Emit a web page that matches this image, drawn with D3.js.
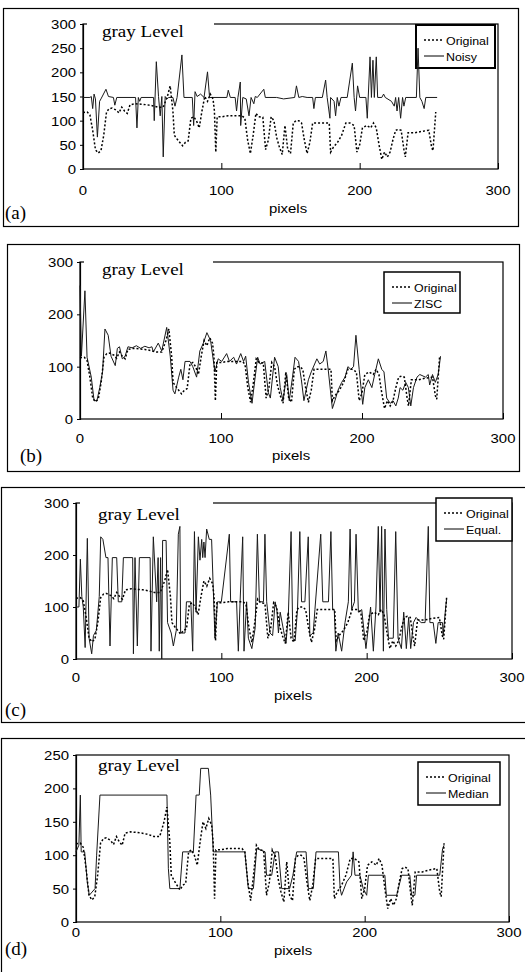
<!DOCTYPE html>
<html><head><meta charset="utf-8">
<script src="https://cdn.jsdelivr.net/npm/d3@7"></script>
<style>body{margin:0;background:#fff}svg{display:block}text{font-weight:400}</style>
</head><body>
<script>
// ---------- DATA ----------
const panelLabels = ["(a)", "(b)", "(c)", "(d)"];
const seriesNames = ["Original", "Noisy", "ZISC", "Equal.", "Median"];
const xTicks = [0, 100, 200, 300];
const yTicksA = [0, 50, 100, 150, 200, 250, 300];
const yTicks300 = [0, 100, 200, 300];
const yTicksD = [0, 50, 100, 150, 200, 250];

// [pixel, gray level]
const original = [[0,117],[3,118],[5,112],[7,80],[9,40],[11,33],[13,38],[15,70],[17,118],[19,125],[21,126],[24,122],[26,116],[28,128],[30,120],[32,115],[34,133],[38,135],[42,134],[46,133],[50,131],[54,128],[58,128],[61,150],[63,172],[65,120],[66,70],[68,62],[70,55],[72,48],[74,55],[76,58],[78,105],[80,108],[82,100],[84,85],[86,120],[88,150],[90,140],[92,155],[94,145],[95,120],[96,35],[97,108],[100,108],[105,110],[110,110],[115,110],[117,105],[119,60],[121,32],[123,70],[125,115],[127,108],[130,107],[132,40],[134,60],[136,108],[138,100],[140,65],[142,45],[144,30],[146,90],[148,40],[150,32],[152,95],[154,100],[156,100],[158,95],[160,60],[162,32],[164,55],[166,95],[170,95],[175,95],[178,95],[179,35],[181,45],[184,55],[187,70],[190,95],[193,95],[196,90],[198,35],[200,50],[202,85],[205,90],[208,85],[210,95],[212,85],[214,50],[216,20],[218,35],[220,25],[222,35],[224,60],[226,80],[228,82],[230,80],[232,40],[233,25],[235,75],[240,75],[245,78],[250,80],[252,45],[253,38],[255,118]];

const noisy = [[0,148],[5,148],[6,150],[7,125],[8,155],[9,145],[10.4,66],[12,140],[13,145],[16.6,165],[18.4,150],[22,148],[23,132],[24.4,148],[38,148],[39,85],[40,148],[41,140],[42,148],[51,148],[51.5,100],[53,222],[54.6,150],[55.8,110],[57,150],[58,25],[59.4,150],[60.5,145],[62,148],[65,148],[66.5,130],[68,148],[71.5,236],[73,148],[79,148],[80,90],[81,160],[82.5,150],[85,155],[87.5,148],[90,201],[91.5,148],[104,148],[105,163],[106.5,148],[110,148],[111,120],[112,148],[113.7,180],[114,90],[115.5,148],[118,145],[120,110],[121.5,148],[123.5,135],[124.5,150],[126,148],[130.7,165],[131.8,148],[140,148],[145,145],[153,148],[154.3,172],[156,148],[158.5,150],[162,148],[166,148],[166.9,125],[168,148],[173,148],[175.4,184],[176.5,148],[178.5,105],[179,148],[181.5,140],[182.6,110],[183.8,148],[185,130],[186.5,148],[191,148],[194.7,219],[196,148],[197,120],[198.5,172],[200,148],[204.5,148],[205.5,105],[207.5,232],[208.5,148],[209.6,225],[210.6,148],[212,232],[213,148],[216,148],[217.3,155],[218.5,148],[223,140],[225,130],[226,148],[227,120],[228.2,148],[229.6,105],[231,148],[232,130],[233.3,148],[241,148],[242.2,250],[243.5,148],[245,140],[246.6,125],[247.8,148],[256,148]];

const zisc = [[0,255],[1,120],[3.5,245],[5,118],[8,80],[10,35],[12,35],[14,60],[16,90],[17.7,172],[20,160],[22,120],[25,102],[26.5,135],[28,138],[30,115],[32,120],[34,138],[37,136],[40,140],[43,135],[46,139],[49,136],[51,138],[52,128],[55.5,145],[58,130],[61.5,175],[64,120],[66,55],[67.3,48],[70,80],[71.5,95],[73,75],[74.5,110],[78,110],[80,100],[82.7,80],[85,130],[87.5,145],[90,165],[92.6,150],[95.7,90],[98,115],[100.5,110],[104,125],[106,110],[109,118],[111,105],[114,125],[116,110],[117.5,120],[119.5,70],[122,30],[124,75],[126,118],[127.7,105],[131,110],[133.6,50],[135,40],[138,118],[140.6,100],[142,60],[144,35],[146.6,85],[148.4,35],[150.7,80],[152.5,118],[155,110],[157,75],[158.8,35],[162,75],[164,90],[168,115],[170,105],[172.5,110],[174.4,130],[176,95],[179,20],[180.8,35],[183,55],[185.6,70],[188,80],[190,100],[192,95],[194,100],[195.7,160],[198,95],[200.5,28],[202,60],[204.5,75],[207,60],[209,85],[211.6,115],[214,95],[215.6,90],[217.5,40],[220,30],[222,35],[224,25],[225.7,40],[227,60],[229,55],[231,70],[232.9,60],[234.6,25],[236.5,60],[239,80],[241,85],[245,80],[247,85],[248,65],[250,85],[252,70],[254,85],[255.7,120]];

const equal = [[0,100],[2,100],[3,192],[4,120],[5,100],[6.3,22],[7.8,232],[9,40],[10.8,10],[12,45],[14,55],[16,120],[17,235],[18.5,230],[20.6,195],[22,195],[23.4,25],[25,195],[28,195],[29.1,110],[31.5,110],[32.6,195],[39,195],[39.5,10],[40.6,195],[42.2,25],[43.6,195],[51,195],[51.6,15],[53.2,235],[55.5,110],[56.5,195],[57.3,15],[58.2,195],[59,0],[59.6,228],[62,228],[63,70],[65.5,50],[67,25],[69,55],[70.4,240],[71.5,255],[72,50],[75,50],[76,110],[79,110],[80.3,15],[81.5,245],[82.6,90],[84.2,235],[85.3,190],[86.5,230],[87.2,195],[88,225],[88.8,195],[89.9,250],[91.7,230],[93.3,230],[95.6,40],[97.3,110],[100,110],[105.5,240],[106.4,110],[110.5,110],[111.7,15],[112.9,110],[114.7,235],[115.6,15],[117.4,110],[118.6,40],[121,20],[123.3,60],[124.8,240],[126.2,110],[129,110],[130,240],[131.2,110],[133.5,50],[135.3,45],[137,110],[138.2,95],[139.3,50],[140.5,90],[142.8,55],[144.5,30],[146.1,85],[148,245],[149.2,40],[150.8,35],[152.4,95],[154,245],[155.2,110],[157.5,110],[159.8,235],[160.9,45],[163.2,50],[164.4,95],[168.4,240],[169.8,110],[173.7,110],[175.4,245],[176.6,95],[177.7,95],[178.8,15],[180.4,50],[182.8,15],[185.1,70],[187.4,110],[188.6,250],[189.7,95],[191.6,110],[192.7,240],[194.3,90],[196.6,95],[199.5,20],[201.1,60],[202.7,100],[204.6,15],[206.4,100],[208,255],[209.2,90],[210.3,255],[211.5,15],[212.6,250],[213.8,95],[215,40],[218.3,40],[220,245],[221.6,40],[223.9,20],[225.5,90],[227.3,20],[228.9,80],[230.3,20],[232.2,70],[234,80],[235.6,75],[237.5,70],[240.2,70],[242.4,255],[243.5,70],[245.8,70],[247.6,30],[249.2,70],[252.2,70],[252.6,45],[254.4,100],[255,115]];

const median = [[0,105],[2,115],[3,190],[3.6,105],[6,105],[7.8,60],[9.2,40],[13.2,50],[14.3,100],[16.6,190],[63,190],[64,80],[65,50],[72,50],[73.9,105],[81.3,105],[83.2,190],[85.4,190],[86.4,230],[91.7,230],[93.3,190],[95.1,105],[117,105],[119.4,50],[122.9,50],[125.2,110],[131,105],[132,70],[135.6,70],[138,105],[140.3,105],[142.5,50],[148,50],[150.3,70],[152.9,105],[159.4,105],[161,50],[164.4,50],[166.3,105],[181.8,105],[183,50],[184,40],[187.5,60],[190.9,70],[192,105],[193.3,70],[196.7,70],[199,50],[201.4,40],[202.6,70],[214,70],[215,40],[222.2,40],[225.6,70],[231.3,70],[232.5,40],[234.8,40],[236,70],[252,70],[254,110],[255,115]];

// ---------- LAYOUT ----------
const W = 525, H = 972;
const svg = d3.select("body").append("svg").attr("width", W).attr("height", H);

const panels = [
  {label: panelLabels[0], other: noisy, name: seriesNames[1], yMax: 300, yTicks: yTicksA,
   box: [3, 8, 518, 226], plot: [83, 498, 24, 169], legend: [416, 25, 79, 43, 2],
   gl: [102, 37], glCut: 214, xLab: 195, pix: [288, 213], pl: [5, 219]},
  {label: panelLabels[1], other: zisc, name: seriesNames[2], yMax: 300, yTicks: yTicks300,
   box: [7, 244, 519, 471], plot: [80, 503, 262, 419], legend: [384, 272, 76, 41, 1.5],
   gl: [102, 275], glCut: 213, xLab: 443, pix: [291, 460], pl: [20, 462]},
  {label: panelLabels[2], other: equal, name: seriesNames[3], yMax: 300, yTicks: yTicks300,
   box: [1, 487, 528, 722], plot: [76, 512, 503, 659], legend: [436, 498, 76, 43, 1.5],
   gl: [98, 520], glCut: 213, xLab: 682, pix: [293, 700], pl: [5, 716]},
  {label: panelLabels[3], other: median, name: seriesNames[4], yMax: 250, yTicks: yTicksD,
   box: [1, 738, 528, 976], plot: [76, 509, 755, 922], legend: [418, 762, 82, 43, 1.5],
   gl: [98, 771], glCut: null, xLab: 937, pix: [293, 955], pl: [5, 955]}
];

const sx = 1.15; // horizontal stretch of the original typography
const SANS = "'Liberation Sans', Arial, sans-serif";
const SERIF = "'Liberation Serif', 'Times New Roman', serif";

function stretchedText(g, x, y, txt, opts) {
  return g.append("text")
    .attr("transform", `translate(${x},${y}) scale(${opts.sx || 1},1)`)
    .style("font-family", opts.family || SANS)
    .style("font-size", opts.size + "px")
    .style("font-weight", "400")
    .attr("text-anchor", opts.anchor || "start")
    .attr("fill", "#000")
    .text(txt);
}

panels.forEach(p => {
  const g = svg.append("g");
  const [bx0, by0, bx1, by1] = p.box;
  g.append("rect").attr("x", bx0 + 0.5).attr("y", by0 + 0.5)
    .attr("width", bx1 - bx0).attr("height", by1 - by0)
    .attr("fill", "none").attr("stroke", "#000").attr("stroke-width", 1.2);

  const [l, r, t, b] = p.plot;
  const x = d3.scaleLinear().domain([0, 300]).range([l, r]);
  const y = d3.scaleLinear().domain([0, p.yMax]).range([b, t]);

  // frame
  g.append("rect").attr("x", l).attr("y", t).attr("width", r - l).attr("height", b - t)
    .attr("fill", "none").attr("stroke", "#000").attr("stroke-width", 1.2);

  // y axis
  const ya = g.append("g").attr("transform", `translate(${l},0)`)
    .call(d3.axisLeft(y).tickValues(p.yTicks).tickSize(3).tickPadding(4).tickFormat(d3.format("d")));
  ya.select(".domain").attr("stroke-width", 1.2);
  ya.selectAll("text").remove();
  p.yTicks.forEach(v => {
    stretchedText(g, l - 7, y(v) + 5, String(v), {size: 13, sx: sx, anchor: "end"});
  });

  // x axis (inward ticks)
  const xa = g.append("g").attr("transform", `translate(0,${b})`)
    .call(d3.axisBottom(x).tickValues(xTicks).tickSizeInner(-6).tickSizeOuter(0));
  xa.select(".domain").remove();
  xa.selectAll("text").remove();
  xTicks.forEach(v => {
    stretchedText(g, x(v), p.xLab, String(v), {size: 13, sx: sx, anchor: "middle"});
  });

  // white cut in top border behind "gray Level"
  if (p.glCut) {
    g.append("rect").attr("x", l + 4).attr("y", t - 2).attr("width", p.glCut - l - 4).attr("height", 4)
      .attr("fill", "#fff");
  }
  stretchedText(g, p.gl[0], p.gl[1], "gray Level", {size: 17, sx: 1.12, family: SERIF});

  // legend box
  const [lx, ly, lw, lh, lsw] = p.legend;
  g.append("rect").attr("x", lx).attr("y", ly).attr("width", lw).attr("height", lh)
    .attr("fill", "#fff").attr("stroke", "#000").attr("stroke-width", lsw);

  // data lines
  const line = d3.line().x(d => x(d[0])).y(d => y(d[1]));
  g.append("path").datum(p.other).attr("d", line)
    .attr("fill", "none").attr("stroke", "#1a1a1a").attr("stroke-width", 1).attr("stroke-linejoin", "round");
  g.append("path").datum(original).attr("d", line)
    .attr("fill", "none").attr("stroke", "#000").attr("stroke-width", 1.5).attr("stroke-dasharray", "2,2");

  // legend entries
  const items = [{name: seriesNames[0], dash: "2,2", w: 1.5}, {name: p.name, dash: null, w: 1}];
  items.forEach((it, i) => {
    const yy = ly + 15 + i * 16;
    const sl = g.append("line").attr("x1", lx + 8).attr("x2", lx + 28).attr("y1", yy).attr("y2", yy)
      .attr("stroke", "#000").attr("stroke-width", it.w);
    if (it.dash) sl.attr("stroke-dasharray", it.dash);
    stretchedText(g, lx + 30, yy + 4.5, it.name, {size: 11.5, sx: 1.08});
  });

  // axis title and panel label
  stretchedText(g, p.pix[0], p.pix[1], "pixels", {size: 13, sx: sx, anchor: "middle"});
  stretchedText(g, p.pl[0], p.pl[1], p.label, {size: 19, family: SERIF});
});
</script>
</body></html>
